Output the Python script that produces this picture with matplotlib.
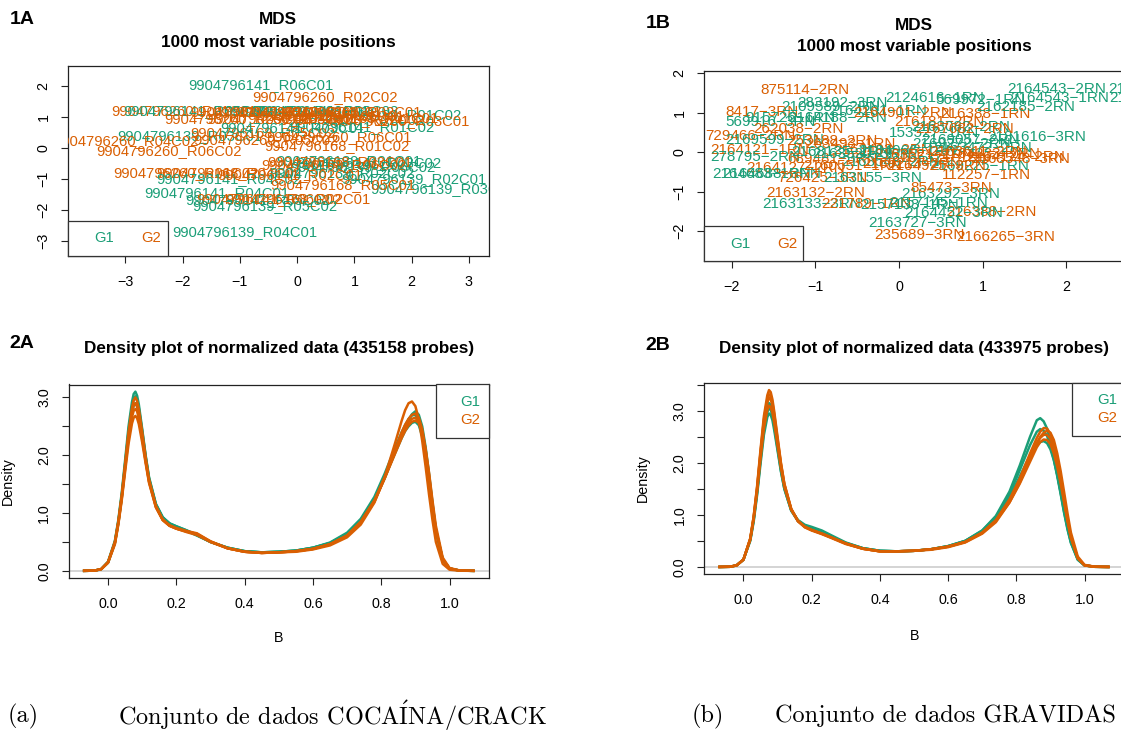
import matplotlib
matplotlib.use("Agg")
import matplotlib.pyplot as plt
from matplotlib.patches import Rectangle

# ---- colours / fonts ----
G1_COLOR = "#1B9E77"
G2_COLOR = "#D95F02"
plt.rcParams["font.family"] = ["Liberation Sans", "DejaVu Sans"]
plt.rcParams["mathtext.fontset"] = "cm"

# ---- 1A: MDS labels (COCAINA/CRACK) ----
MDS_A_NAMES = [
    "9904796141_R06C01", "9904796260_R02C02", "9904796260_R01C01", "9904796141_R05C01",
    "9904796139_R01C02", "9904796260_R03C01", "9904796141_R01C02", "9904796260_R05C01",
    "9904796168_R03C02", "9904796139_R06C01", "9904796168_R04C01", "9904796141_R02C02",
    "9904796260_R04C01", "9904796168_R06C01", "9904796260_R02C01", "9904796168_R01C01",
    "9904796260_R03C02", "9904796168_R02C02", "9904796139_R03C01", "9904796260_R04C02",
    "9904796260_R06C02", "9904796260_R06C01", "9904796168_R01C02", "9904796168_R05C02",
    "9904796141_R03C01", "9904796260_R05C02", "9904796139_R01C01", "9904796141_R03C02",
    "9904796168_R03C01", "9904796139_R06C02", "9904796168_R06C02", "9904796260_R01C02",
    "9904796168_R04C02", "9904796141_R04C02", "9904796139_R02C02", "9904796141_R02C01",
    "9904796139_R02C01", "9904796139_R03C02", "9904796168_R05C01", "9904796141_R04C01",
    "9904796141_R05C02", "9904796168_R02C01", "9904796141_R06C02", "9904796139_R05C02",
    "9904796139_R04C01",
]
MDS_A_X = [
    -0.63, 0.49, -1.97, -1.76,
    1.60, 1.75, 1.13, -1.05,
    -0.60, 0.00, -0.20, 0.50,
    0.20, 0.60, 0.90, 1.20,
    -0.30, 0.95, -1.88, -2.98,
    -2.23, 0.73, 0.69, -0.60,
    -0.07, -0.54, 0.90, 1.25,
    0.75, 1.15, 0.65, -1.94,
    -1.20, -1.20, 0.79, -0.12,
    2.04, 2.55, 0.80, -1.40,
    -0.68, 0.02, -0.50, -0.57,
    -0.91,
]
MDS_A_Y = [
    2.03, 1.65, 1.19, 1.20,
    1.06, 0.87, 0.68, 0.94,
    1.18, 1.20, 1.12, 1.20,
    1.15, 1.05, 1.17, 0.97,
    0.95, 0.90, 0.39, 0.23,
    -0.10, 0.35, 0.07, 0.49,
    0.64, 0.25, -0.42, -0.48,
    -0.45, -0.60, -0.55, -0.81,
    -0.81, -1.00, -0.81, -0.87,
    -1.00, -1.32, -1.19, -1.45,
    -1.68, -1.65, -1.65, -1.87,
    -2.70,
]
MDS_A_GROUP = [
    "G1", "G2", "G2", "G1",
    "G1", "G2", "G1", "G2",
    "G2", "G1", "G2", "G1",
    "G2", "G2", "G2", "G2",
    "G2", "G2", "G1", "G2",
    "G2", "G2", "G2", "G2",
    "G1", "G2", "G1", "G1",
    "G2", "G1", "G2", "G2",
    "G2", "G1", "G1", "G2",
    "G1", "G1", "G2", "G1",
    "G1", "G2", "G2", "G1",
    "G1",
]

# ---- 1B: MDS labels (GRAVIDAS) ----
MDS_B_NAMES = [
    "875114-2RN", "283192-3RN", "8417-3RN", "2109589-2RN", "569916-3RN",
    "915726-1RN", "2164188-2RN", "262038-2RN", "729466-2RN", "2169599-2RN",
    "253188-2RN", "263493-1RN", "2164121-1RN", "278795-2RN", "689481-3RN",
    "2164127-2RN", "2164683-1RN", "2164688-3RN", "726425-3RN", "2163155-3RN",
    "2163132-2RN", "2163133-3RN", "221789-1RN", "2157133-1RN", "2163727-3RN",
    "235689-3RN", "2166265-3RN", "216388-2RN", "2164452-3RN", "2157145-1RN",
    "2163292-3RN", "85473-3RN", "112257-1RN", "2169225-1RN", "2164124-2RN",
    "2163548-3RN", "2164233-2RN", "2163472-2RN", "2169057-2RN", "2181616-3RN",
    "153527-1RN", "216181-2RN", "216388-1RN", "2163082-2RN", "2167682-2RN",
    "2124616-1RN", "569972-1RN", "2164543-2RN", "2164543-1RN", "2162185-2RN",
    "2164544-1RN", "2164545-2RN", "2164291-1RN", "2164901-2RN", "2163493-2RN",
    "2164066-1RN", "2163520-3RN", "2163521-1RN", "2169272-2RN", "2165321-1RN",
    "2163548-2RN", "2164925-3RN", "2160551-1RN", "2169213-2RN", "2168135-1RN",
    "2163611-2RN",
]
MDS_B_X = [
    -1.12, -0.68, -1.64, -0.81, -1.54,
    -1.30, -0.73, -1.20, -1.78, -1.48,
    -0.80, -0.58, -1.66, -1.72, -0.79,
    -1.24, -1.64, -1.52, -0.91, -0.31,
    -1.00, -1.04, -0.39, 0.13, 0.22,
    0.24, 1.27, 1.10, 0.66, 0.47,
    0.62, 0.62, 1.05, 0.97, 1.39,
    1.45, 1.10, 1.00, 0.86, 1.65,
    0.42, 0.49, 1.03, 0.74, 0.78,
    0.43, 0.98, 1.88, 1.92, 1.52,
    3.09, 3.10, -0.25, 0.05, -0.20,
    0.10, -0.45, 0.30, 0.75, 0.50,
    -0.10, 0.45, -0.55, 0.15, -0.70,
    0.95,
]
MDS_B_Y = [
    1.57, 1.24, 1.02, 1.14, 0.76,
    0.86, 0.86, 0.58, 0.41, 0.30,
    0.28, 0.20, 0.05, -0.13, -0.18,
    -0.41, -0.56, -0.56, -0.66, -0.66,
    -1.04, -1.32, -1.32, -1.35, -1.80,
    -2.10, -2.15, -1.52, -1.55, -1.30,
    -1.07, -0.91, -0.58, -0.36, -0.13,
    -0.18, -0.05, 0.10, 0.30, 0.38,
    0.48, 0.76, 0.96, 0.63, 0.60,
    1.37, 1.32, 1.60, 1.37, 1.14,
    1.60, 1.37, 1.05, 1.00, 0.05,
    0.02, -0.05, -0.08, 0.22, -0.15,
    -0.25, -0.35, -0.35, -0.30, 0.00,
    0.00,
]
MDS_B_GROUP = [
    "G2", "G1", "G2", "G1", "G1",
    "G1", "G1", "G2", "G2", "G1",
    "G2", "G2", "G2", "G1", "G2",
    "G2", "G1", "G1", "G2", "G1",
    "G2", "G1", "G2", "G1", "G1",
    "G2", "G2", "G2", "G1", "G1",
    "G1", "G2", "G2", "G1", "G2",
    "G2", "G2", "G1", "G1", "G1",
    "G1", "G2", "G2", "G1", "G2",
    "G1", "G1", "G1", "G1", "G1",
    "G1", "G1", "G1", "G2", "G2",
    "G1", "G1", "G2", "G1", "G2",
    "G1", "G2", "G2", "G2", "G1",
    "G2",
]

# ---- 2A / 2B: density curves of beta values ----
B_GRID = [-0.07, -0.04, -0.02, 0.0, 0.02, 0.03, 0.04, 0.05, 0.06, 0.07, 0.075, 0.08, 0.085,
          0.09, 0.10, 0.11, 0.12, 0.14, 0.16, 0.18, 0.20, 0.23, 0.26, 0.30, 0.35, 0.40, 0.45,
          0.50, 0.55, 0.60, 0.65, 0.70, 0.74, 0.78, 0.81, 0.84, 0.86, 0.87, 0.88, 0.89, 0.90,
          0.91, 0.92, 0.93, 0.94, 0.95, 0.96, 0.98, 1.00, 1.03, 1.07]

DENS_A_G1 = [
    [0.0, 0.003, 0.03, 0.16, 0.52, 0.88, 1.35, 1.92, 2.5, 2.92, 3.06, 3.1, 3.03, 2.88, 2.45, 2.0,
     1.62, 1.16, 0.93, 0.82, 0.77, 0.7, 0.62, 0.5, 0.4, 0.34, 0.32, 0.33, 0.35, 0.4, 0.49, 0.66,
     0.9, 1.28, 1.68, 2.12, 2.4, 2.52, 2.62, 2.69, 2.7, 2.6, 2.38, 2.02, 1.58, 1.1, 0.68, 0.19,
     0.04, 0.004, 0.0],
    [0.0, 0.003, 0.03, 0.15, 0.5, 0.85, 1.3, 1.86, 2.42, 2.83, 2.97, 3.02, 2.96, 2.82, 2.42, 1.98,
     1.6, 1.15, 0.92, 0.82, 0.76, 0.69, 0.61, 0.5, 0.4, 0.34, 0.32, 0.33, 0.35, 0.4, 0.48, 0.64,
     0.87, 1.24, 1.62, 2.03, 2.3, 2.42, 2.5, 2.56, 2.58, 2.52, 2.33, 2.0, 1.58, 1.12, 0.7, 0.2,
     0.04, 0.004, 0.0],
    [0.0, 0.003, 0.03, 0.14, 0.48, 0.82, 1.26, 1.8, 2.34, 2.74, 2.86, 2.9, 2.85, 2.72, 2.36, 1.95,
     1.58, 1.14, 0.92, 0.82, 0.77, 0.7, 0.62, 0.5, 0.4, 0.34, 0.32, 0.33, 0.35, 0.4, 0.48, 0.64,
     0.86, 1.22, 1.6, 2.05, 2.36, 2.5, 2.62, 2.71, 2.76, 2.7, 2.5, 2.14, 1.68, 1.18, 0.72, 0.2,
     0.04, 0.004, 0.0],
]
DENS_A_G2 = [
    [0.0, 0.003, 0.03, 0.15, 0.5, 0.85, 1.3, 1.85, 2.4, 2.82, 2.95, 3.0, 2.94, 2.8, 2.4, 1.97,
     1.58, 1.12, 0.88, 0.78, 0.73, 0.68, 0.64, 0.5, 0.39, 0.33, 0.31, 0.32, 0.34, 0.38, 0.46, 0.61,
     0.84, 1.2, 1.6, 2.05, 2.35, 2.47, 2.57, 2.63, 2.65, 2.58, 2.38, 2.04, 1.6, 1.13, 0.7, 0.2,
     0.04, 0.004, 0.0],
    [0.0, 0.003, 0.03, 0.14, 0.46, 0.8, 1.22, 1.72, 2.2, 2.55, 2.65, 2.68, 2.64, 2.54, 2.22, 1.86,
     1.52, 1.1, 0.88, 0.78, 0.73, 0.68, 0.64, 0.51, 0.39, 0.33, 0.31, 0.32, 0.34, 0.38, 0.46, 0.61,
     0.85, 1.22, 1.62, 2.08, 2.4, 2.53, 2.63, 2.7, 2.72, 2.65, 2.45, 2.1, 1.65, 1.16, 0.72, 0.2,
     0.04, 0.004, 0.0],
    [0.0, 0.003, 0.03, 0.15, 0.49, 0.84, 1.28, 1.82, 2.36, 2.75, 2.86, 2.9, 2.84, 2.7, 2.32, 1.9,
     1.54, 1.1, 0.88, 0.78, 0.73, 0.67, 0.62, 0.5, 0.39, 0.33, 0.31, 0.32, 0.33, 0.37, 0.44, 0.58,
     0.8, 1.18, 1.62, 2.2, 2.6, 2.78, 2.9, 2.93, 2.85, 2.62, 2.25, 1.8, 1.32, 0.88, 0.5, 0.12,
     0.02, 0.002, 0.0],
    [0.0, 0.003, 0.03, 0.15, 0.48, 0.82, 1.25, 1.77, 2.28, 2.66, 2.77, 2.8, 2.76, 2.63, 2.28, 1.9,
     1.55, 1.12, 0.89, 0.79, 0.74, 0.69, 0.65, 0.51, 0.39, 0.33, 0.31, 0.32, 0.34, 0.38, 0.46, 0.61,
     0.84, 1.2, 1.6, 2.02, 2.3, 2.42, 2.52, 2.58, 2.6, 2.56, 2.4, 2.1, 1.7, 1.22, 0.78, 0.23,
     0.05, 0.005, 0.0],
]
DENS_B_G1 = [
    [0.0, 0.003, 0.03, 0.14, 0.52, 0.9, 1.42, 2.05, 2.62, 2.98, 3.05, 3.02, 2.9, 2.72, 2.28, 1.85,
     1.5, 1.08, 0.88, 0.79, 0.75, 0.68, 0.58, 0.46, 0.36, 0.31, 0.3, 0.31, 0.34, 0.4, 0.5, 0.7,
     0.98, 1.45, 1.95, 2.5, 2.82, 2.86, 2.8, 2.66, 2.42, 2.12, 1.78, 1.42, 1.06, 0.74, 0.47, 0.14,
     0.03, 0.003, 0.0],
    [0.0, 0.003, 0.03, 0.14, 0.5, 0.87, 1.38, 1.98, 2.54, 2.88, 2.95, 2.92, 2.82, 2.64, 2.24, 1.83,
     1.5, 1.09, 0.9, 0.81, 0.77, 0.7, 0.6, 0.47, 0.36, 0.31, 0.3, 0.31, 0.34, 0.4, 0.5, 0.68,
     0.93, 1.33, 1.74, 2.14, 2.34, 2.4, 2.42, 2.38, 2.26, 2.05, 1.77, 1.45, 1.1, 0.78, 0.5, 0.15,
     0.03, 0.003, 0.0],
    [0.0, 0.003, 0.03, 0.14, 0.53, 0.92, 1.46, 2.1, 2.7, 3.07, 3.15, 3.12, 3.0, 2.8, 2.34, 1.9,
     1.53, 1.1, 0.89, 0.79, 0.75, 0.68, 0.58, 0.46, 0.36, 0.31, 0.3, 0.31, 0.34, 0.4, 0.5, 0.7,
     0.96, 1.4, 1.86, 2.34, 2.6, 2.65, 2.62, 2.52, 2.32, 2.06, 1.74, 1.4, 1.04, 0.72, 0.46, 0.14,
     0.03, 0.003, 0.0],
]
DENS_B_G2 = [
    [0.0, 0.003, 0.03, 0.14, 0.55, 0.97, 1.55, 2.25, 2.9, 3.3, 3.4, 3.36, 3.22, 3.0, 2.5, 2.0,
     1.6, 1.12, 0.88, 0.76, 0.7, 0.63, 0.55, 0.44, 0.35, 0.3, 0.3, 0.31, 0.34, 0.39, 0.48, 0.66,
     0.9, 1.3, 1.7, 2.18, 2.48, 2.6, 2.67, 2.66, 2.56, 2.36, 2.06, 1.7, 1.3, 0.92, 0.58, 0.17,
     0.03, 0.003, 0.0],
    [0.0, 0.003, 0.03, 0.14, 0.54, 0.95, 1.5, 2.17, 2.79, 3.16, 3.25, 3.22, 3.1, 2.9, 2.42, 1.96,
     1.58, 1.11, 0.88, 0.77, 0.71, 0.64, 0.56, 0.45, 0.35, 0.3, 0.3, 0.31, 0.34, 0.39, 0.48, 0.66,
     0.89, 1.27, 1.65, 2.1, 2.38, 2.48, 2.54, 2.54, 2.46, 2.28, 2.0, 1.66, 1.28, 0.9, 0.57, 0.17,
     0.03, 0.003, 0.0],
    [0.0, 0.003, 0.03, 0.14, 0.52, 0.92, 1.45, 2.08, 2.66, 3.02, 3.1, 3.07, 2.96, 2.78, 2.33, 1.9,
     1.54, 1.1, 0.88, 0.77, 0.71, 0.64, 0.56, 0.45, 0.35, 0.3, 0.3, 0.31, 0.34, 0.39, 0.48, 0.65,
     0.88, 1.24, 1.6, 2.02, 2.3, 2.4, 2.45, 2.44, 2.36, 2.18, 1.92, 1.6, 1.24, 0.88, 0.56, 0.17,
     0.03, 0.003, 0.0],
    [0.0, 0.003, 0.03, 0.14, 0.54, 0.96, 1.52, 2.2, 2.84, 3.22, 3.32, 3.29, 3.16, 2.95, 2.46, 1.98,
     1.59, 1.11, 0.88, 0.77, 0.71, 0.64, 0.56, 0.45, 0.35, 0.3, 0.3, 0.31, 0.33, 0.38, 0.47, 0.64,
     0.86, 1.24, 1.62, 2.08, 2.38, 2.5, 2.58, 2.62, 2.58, 2.44, 2.18, 1.84, 1.44, 1.03, 0.66, 0.2,
     0.04, 0.004, 0.0],
]

TITLE_A = "Density plot of normalized data (435158 probes)"
TITLE_B = "Density plot of normalized data (433975 probes)"

# ---- figure geometry (pixels) ----
W, H = 1121, 731
BASE = 10.3


def box(l, t, r, b):
    return [l / W, 1 - b / H, (r - l) / W, (b - t) / H]


def px(x, y):
    return x / W, 1 - y / H


def style_axes(ax):
    for sp in ax.spines.values():
        sp.set_color("#222222")
        sp.set_linewidth(0.9)
    ax.tick_params(direction="out", length=5, width=0.8, colors="#222222",
                   labelsize=BASE, labelcolor="black")
    ax.tick_params(axis="x", pad=9)
    ax.tick_params(axis="y", pad=7.5, labelrotation=90)
    for lab in ax.get_yticklabels():
        lab.set_va("center")


def r_legend(ax, box_xy, box_wh, text_xy, ha="center", size=BASE):
    ax.add_patch(Rectangle(box_xy, box_wh[0], box_wh[1], transform=ax.transAxes,
                           facecolor="white", edgecolor="#333333", lw=0.9,
                           zorder=5, clip_on=False))
    for (tx, ty), lab, col in zip(text_xy, ["G1", "G2"], [G1_COLOR, G2_COLOR]):
        ax.text(tx, ty, lab, color=col, fontsize=size, ha=ha, va="center",
                transform=ax.transAxes, zorder=6)


def mds_panel(ax, names, xs, ys, groups, xlim, ylim, xticks, yticks, size):
    for name, x, y, g in zip(names, xs, ys, groups):
        col = G1_COLOR if g == "G1" else G2_COLOR
        ax.text(x, y, name.replace("-", "\u2212"), color=col, fontsize=size,
                ha="center", va="center", clip_on=True)
    ax.set_xlim(*xlim)
    ax.set_ylim(*ylim)
    ax.set_xticks(xticks)
    ax.set_yticks(yticks)
    style_axes(ax)


def density_panel(ax, curves_g1, curves_g2, yticks):
    ax.axhline(0, color="#d4d4d4", lw=1.4, zorder=0.5)
    for ys in curves_g1:
        ax.plot(B_GRID, ys, color=G1_COLOR, lw=1.8, solid_joinstyle="round")
    for ys in curves_g2:
        ax.plot(B_GRID, ys, color=G2_COLOR, lw=1.8, solid_joinstyle="round")
    ax.margins(x=0.04, y=0.04)
    ax.set_xticks([0.0, 0.2, 0.4, 0.6, 0.8, 1.0])
    ax.set_xticklabels(["0.0", "0.2", "0.4", "0.6", "0.8", "1.0"])
    ax.set_yticks(yticks)
    ax.set_yticklabels(["%.1f" % t if abs(t - round(t)) < 1e-9 else "" for t in yticks])
    style_axes(ax)


fig = plt.figure(figsize=(W / 100, H / 100), dpi=100)

# 1A
ax1a = fig.add_axes(box(68, 66, 489, 256))
mds_panel(ax1a, MDS_A_NAMES, MDS_A_X, MDS_A_Y, MDS_A_GROUP,
          (-4.0, 3.35), (-3.48, 2.65), [-3, -2, -1, 0, 1, 2, 3], [-3, -2, -1, 0, 1, 2], 10.6)
r_legend(ax1a, (0, 0), (0.2375, 0.184), [(0.0855, 0.095), (0.197, 0.095)], size=10.6)

# 1B
ax1b = fig.add_axes(box(704, 71, 1124, 261))
mds_panel(ax1b, MDS_B_NAMES, MDS_B_X, MDS_B_Y, MDS_B_GROUP,
          (-2.33, 2.69), (-2.76, 2.06), [-2, -1, 0, 1, 2], [-2, -1, 0, 1, 2], 11.0)
r_legend(ax1b, (0, 0), (0.2357, 0.184), [(0.0857, 0.092), (0.198, 0.092)], size=11.0)

# 2A
ax2a = fig.add_axes(box(68.6, 384.5, 489, 578))
density_panel(ax2a, DENS_A_G1, DENS_A_G2, [0.0, 0.5, 1.0, 1.5, 2.0, 2.5, 3.0])
r_legend(ax2a, (0.874, 0.7235), (0.126, 0.2765), [(0.979, 0.9096), (0.979, 0.8165)],
         ha="right", size=10.8)

# 2B
ax2b = fig.add_axes(box(704, 383, 1124, 574))
density_panel(ax2b, DENS_B_G1, DENS_B_G2, [0.0, 0.5, 1.0, 1.5, 2.0, 2.5, 3.0, 3.5])
r_legend(ax2b, (0.8755, 0.7237), (0.1245, 0.2763), [(0.983, 0.9088), (0.983, 0.818)],
         ha="right", size=10.8)

# titles, panel tags, axis labels
TSIZE = 12.3
for x, y, s in [(278, 20, "MDS"), (278, 42, "1000 most variable positions"),
                (914, 25, "MDS"), (914, 46, "1000 most variable positions"),
                (279, 348, TITLE_A), (914, 348, TITLE_B)]:
    fig.text(*px(x, y), s, fontsize=TSIZE, fontweight="bold", ha="center", va="center")
for x, y, s in [(22, 20, "1A"), (658, 24, "1B"), (22, 343, "2A"), (658, 346, "2B")]:
    fig.text(*px(x, y), s, fontsize=14, fontweight="bold", ha="center", va="center")
for x, y, s in [(279, 638, "B"), (915, 636, "B")]:
    fig.text(*px(x, y), s, fontsize=BASE, ha="center", va="center")
for x, y in [(8, 481), (643, 478)]:
    fig.text(*px(x, y), "Density", fontsize=BASE, ha="center", va="center", rotation=90)

# subfigure captions
CAP = 17.5
fig.text(*px(8, 716), "(a)", fontsize=CAP, family="cmr10", ha="left", va="center")
fig.text(*px(118, 716), "Conjunto de dados COCA$\\acute{\\mathrm{I}}$NA/CRACK",
         fontsize=CAP, family="cmr10", ha="left", va="center")
fig.text(*px(692, 716), "(b)", fontsize=CAP, family="cmr10", ha="left", va="center")
fig.text(*px(775, 716), "Conjunto de dados GRAVIDAS", fontsize=CAP, family="cmr10",
         ha="left", va="center")

fig.savefig("out.png", dpi=100)
